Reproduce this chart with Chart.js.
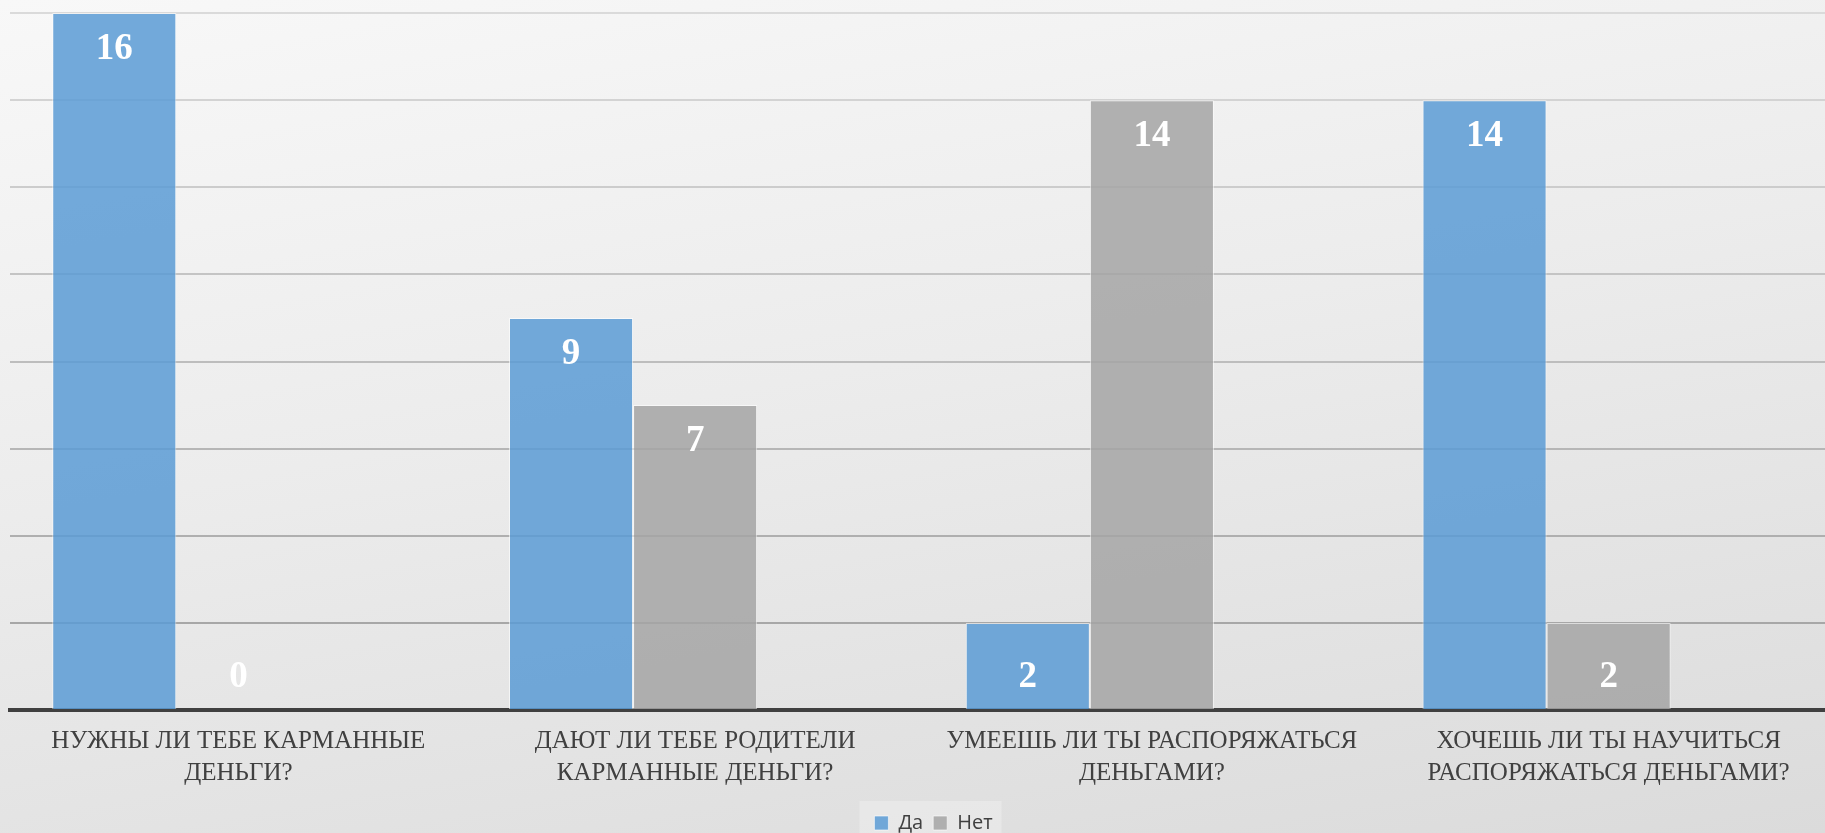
<!DOCTYPE html>
<html>
<head>
<meta charset="utf-8">
<script src="https://cdn.jsdelivr.net/npm/chart.js@4.4.0/dist/chart.umd.min.js"></script>
<style>
    html, body { margin: 0; padding: 0; }
    body {
        width: 1825px;
        height: 833px;
        background: linear-gradient(170deg, #f8f8f8 0%, #ececec 45%, #dbdbdb 100%);
        overflow: hidden;
    }
    canvas { display: block; }
</style>
</head>
<body>
<!-- plot runs slightly past the right edge, as in the source -->
<canvas id="chart" width="1837" height="833"></canvas>
<script>
// Chart data
const categories = [
    ['НУЖНЫ ЛИ ТЕБЕ КАРМАННЫЕ', 'ДЕНЬГИ?'],
    ['ДАЮТ ЛИ ТЕБЕ РОДИТЕЛИ', 'КАРМАННЫЕ ДЕНЬГИ?'],
    ['УМЕЕШЬ ЛИ ТЫ РАСПОРЯЖАТЬСЯ', 'ДЕНЬГАМИ?'],
    ['ХОЧЕШЬ ЛИ ТЫ НАУЧИТЬСЯ', 'РАСПОРЯЖАТЬСЯ ДЕНЬГАМИ?']
];
const yesValues = [16, 9, 2, 14];
const noValues = [0, 7, 14, 2];
// empty third series in the source chart (keeps the bars off-centre)
const emptyValues = [null, null, null, null];
const seriesNames = ['Да', 'Нет'];

// grid lines get darker toward the bottom
function gridColor(ctx) {
    const v = ctx.tick ? ctx.tick.value : 0;
    if (v === 0) return 'rgba(0,0,0,0)';
    const shade = Math.round(160 + (v / 16) * 58);
    return `rgb(${shade},${shade},${shade})`;
}

// white value labels inside the bar ends
const valueLabels = {
    id: 'valueLabels',
    afterDatasetsDraw(chart) {
        const ctx = chart.ctx;
        const base = chart.scales.y.getPixelForValue(0);
        ctx.save();
        ctx.fillStyle = '#ffffff';
        ctx.font = 'bold 37px "Liberation Serif", "Times New Roman", serif';
        ctx.textAlign = 'center';
        ctx.textBaseline = 'middle';
        [0, 1].forEach(di => {
            const meta = chart.getDatasetMeta(di);
            meta.data.forEach((bar, i) => {
                const val = chart.data.datasets[di].data[i];
                if (val === null) return;
                // short bars: label sits just above the axis
                const y = (base - bar.y < 120) ? base - 33 : bar.y + 36;
                ctx.fillText(String(val), bar.x, y);
            });
        });
        ctx.restore();
    }
};

// nudge the legend a little right and paint the soft box behind it
const legendBox = {
    id: 'legendBox',
    afterLayout(chart) {
        const lg = chart.legend;
        if (!lg) return;
        lg.left += 10;
        lg.right += 10;
    },
    beforeDraw(chart) {
        const lg = chart.legend;
        if (!lg) return;
        const ctx = chart.ctx;
        ctx.save();
        ctx.fillStyle = 'rgba(255,255,255,0.25)';
        const w = 142;
        const cx = (lg.left + lg.right) / 2;
        ctx.fillRect(cx - w / 2 - 3, lg.top - 2, w, chart.height - lg.top + 2);
        ctx.restore();
    }
};

const chart = new Chart(document.getElementById('chart'), {
    type: 'bar',
    data: {
        labels: categories,
        datasets: [
            {
                label: seriesNames[0],
                data: yesValues,
                backgroundColor: 'rgba(91,155,213,0.85)',
                borderColor: 'rgba(255,255,255,0.6)',
                borderWidth: 1
            },
            {
                label: seriesNames[1],
                data: noValues,
                backgroundColor: 'rgba(165,165,165,0.85)',
                borderColor: 'rgba(255,255,255,0.6)',
                borderWidth: 1
            },
            {
                label: '',
                data: emptyValues,
                backgroundColor: 'rgba(0,0,0,0)'
            }
        ]
    },
    options: {
        responsive: false,
        animation: false,
        devicePixelRatio: 1,
        layout: { padding: { left: 10, top: 13, right: 0, bottom: -10 } },
        datasets: {
            bar: { categoryPercentage: 0.815, barPercentage: 1.0 }
        },
        plugins: {
            legend: {
                position: 'bottom',
                labels: {
                    filter: item => item.text !== '',
                    boxWidth: 14,
                    boxHeight: 14,
                    padding: 10,
                    color: '#404040',
                    font: { family: '"Open Sans", "Noto Sans", sans-serif', size: 20 }
                }
            },
            tooltip: { enabled: false }
        },
        scales: {
            x: {
                grid: { display: false },
                border: { display: true, color: '#404040', width: 4 },
                ticks: {
                    color: '#404040',
                    padding: 8,
                    maxRotation: 0,
                    autoSkip: false,
                    font: { family: '"Liberation Serif", "Times New Roman", serif', size: 25, lineHeight: 1.27 }
                },
                afterFit: scale => { scale.height = 93; }
            },
            y: {
                min: 0,
                max: 16,
                ticks: { display: false, stepSize: 2 },
                border: { display: false },
                grid: { color: gridColor, lineWidth: 2, drawTicks: false },
                afterFit: scale => { scale.width = 0; }
            }
        }
    },
    plugins: [legendBox, valueLabels]
});
</script>
</body>
</html>
